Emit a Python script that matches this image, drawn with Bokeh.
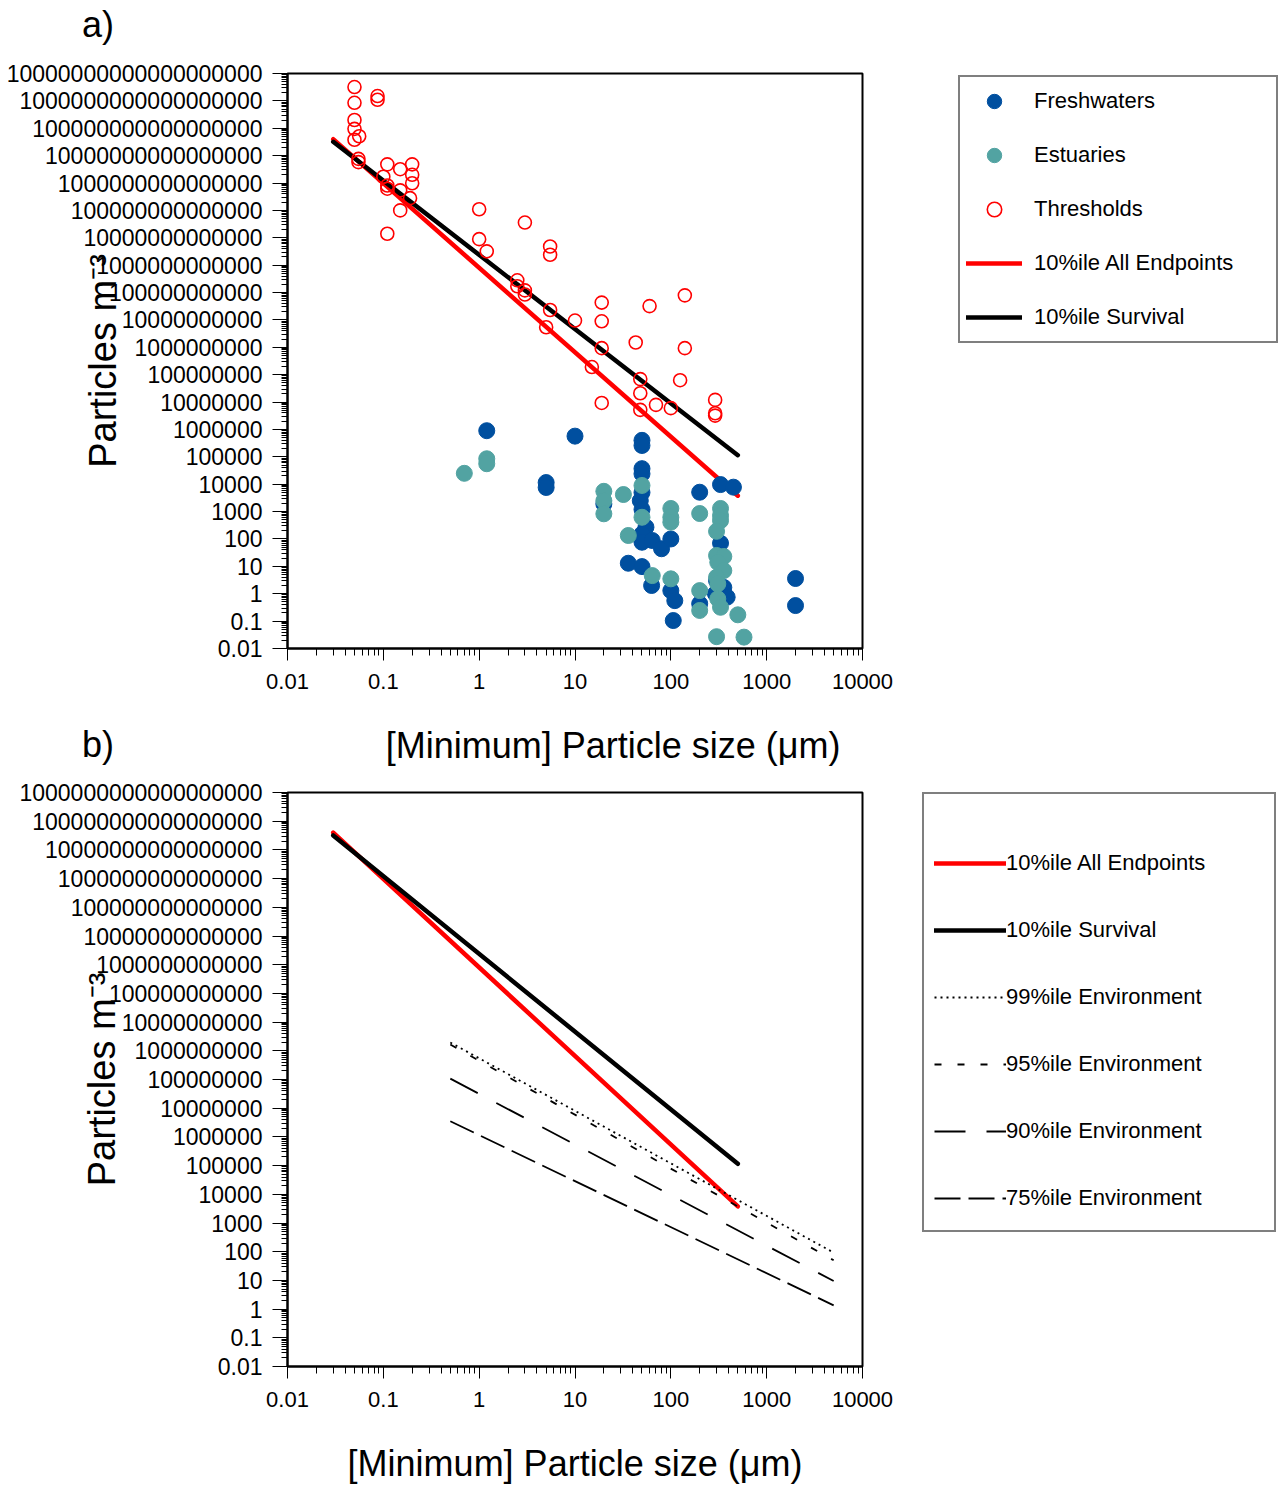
from bokeh.plotting import figure
from bokeh.models import FixedTicker, Range1d, Legend, LegendItem, LogAxis
from bokeh.layouts import column
from bokeh.embed import file_html
from bokeh.resources import INLINE

FONT = "Liberation Sans"
PAGE_W = 1276

# ---------------- tick labels ----------------
x_tick_labels = ["0.01", "0.1", "1", "10", "100", "1000", "10000"]
ya_tick_labels = [
    "0.01", "0.1", "1", "10", "100", "1000", "10000", "100000", "1000000",
    "10000000", "100000000", "1000000000", "10000000000", "100000000000",
    "1000000000000", "10000000000000", "100000000000000", "1000000000000000",
    "10000000000000000", "100000000000000000", "1000000000000000000",
    "10000000000000000000",
]
yb_tick_labels = ya_tick_labels[:-1]

X_TITLE = "[Minimum] Particle size (\u03bcm)"
Y_TITLE = "Particles m\u207b\u00b3"
X_TITLE_A_AT = 25.0   # particle size under which panel a's x title is centred

# ---------------- panel a data ----------------
fw_size = [1.2, 10, 5, 5, 50, 50, 50, 50, 50, 48, 50, 55, 50, 50, 64, 80, 100,
           20, 36, 50, 63, 100, 110, 106, 200, 330, 450, 330, 357, 387, 292,
           200, 300, 2000, 2000]
fw_conc = [9e5, 5.7e5, 1.15e4, 7.6e3, 4e5, 2.6e5, 3.7e4, 2.4e4, 5e3, 2.5e3,
           1.2e3, 270, 150, 76, 88, 44, 100, 1.9e3, 13, 9.8, 2.0, 1.3, 0.56,
           0.105, 5.1e3, 9.7e3, 7.8e3, 70, 1.7, 0.75, 1.0, 0.43, 3.0, 3.6, 0.37]

es_size = [0.7, 1.2, 1.2, 50, 50, 100, 100, 100, 20, 20, 20, 32, 36, 64, 100,
           200, 200, 200, 330, 330, 330, 300, 300, 357, 309, 357, 300, 309,
           309, 330, 500, 300, 580]
es_conc = [2.5e4, 8.5e4, 5.6e4, 9e3, 620, 1.3e3, 620, 410, 5.5e3, 2.5e3, 830,
           4.2e3, 134, 4.6, 3.5, 850, 1.3, 0.245, 1.3e3, 720, 470, 190, 25, 23,
           14, 7, 4, 2.3, 0.65, 0.32, 0.17, 0.027, 0.026]

th_size = [0.05, 0.05, 0.087, 0.087, 0.05, 0.05, 0.05, 0.056, 0.055, 0.055,
           0.11, 0.15, 0.2, 0.2, 0.2, 0.1, 0.11, 0.11, 0.15, 0.19, 0.15, 0.11,
           1.0, 3.0, 1.0, 1.2, 5.5, 5.5, 2.5, 2.5, 3.0, 3.0, 5.5, 10, 5.0,
           19, 60, 140, 19, 19, 43, 140, 15, 48, 125, 48, 19, 70, 100, 48,
           290, 290, 290]
th_conc = [3.2e18, 8.5e17, 1.5e18, 1.1e18, 2e17, 9.5e16, 3.8e16, 5.1e16,
           7.6e15, 5.8e15, 4.8e15, 3.2e15, 4.8e15, 2e15, 9.8e14, 1.7e15,
           8.1e14, 6.2e14, 5.4e14, 2.8e14, 1e14, 1.4e13, 1.1e14, 3.6e13,
           8.9e12, 3.2e12, 4.8e12, 2.4e12, 2.8e11, 1.7e11, 1.2e11, 8.5e10,
           2.3e10, 9.5e9, 5.4e9, 4.3e10, 3.2e10, 7.9e10, 8.9e9, 9.3e8, 1.5e9,
           9.3e8, 1.9e8, 6.9e7, 6.3e7, 2.1e7, 9.3e6, 7.9e6, 6e6, 5.2e6, 1.2e7,
           3.9e6, 3.2e6]

# 10th percentile threshold lines (endpoints)
line_size = [0.03, 500]
all_endpoints = [4.0e16, 3.8e3]
survival = [3.2e16, 1.15e5]

# ---------------- panel b data (environmental percentiles) ----------------
env_size = [0.5, 5000]
env99 = [1.95e9, 93]
env95 = [1.66e9, 50]
env90 = [1.07e8, 9.5]
env75 = [3.5e6, 1.35]

BLUE = "#004F9F"
TEAL = "#52A3A2"
RED = "#FF0000"


def minors(t):
    return [m * t[i] for i in range(len(t) - 1) for m in range(2, 10)]


def make_fig(ylabels, top, bottom, fh, ystandoff):
    xt = [float(s) for s in x_tick_labels]
    yt = [float(s) for s in ylabels]
    p = figure(x_axis_type="log", y_axis_type="log",
               x_range=Range1d(xt[0], xt[-1]), y_range=Range1d(yt[0], yt[-1]),
               frame_width=575, frame_height=fh,
               min_border_left=287, min_border_right=PAGE_W - 287 - 575,
               min_border_top=top, min_border_bottom=bottom,
               toolbar_location=None, output_backend="svg",
               background_fill_color="white", border_fill_color="white")
    p.xgrid.visible = False
    p.ygrid.visible = False
    p.outline_line_color = "black"
    p.outline_line_width = 2
    p.xaxis.ticker = FixedTicker(ticks=xt, minor_ticks=minors(xt))
    p.yaxis.ticker = FixedTicker(ticks=yt, minor_ticks=minors(yt))
    p.xaxis.major_label_overrides = dict(zip(xt, x_tick_labels))
    p.yaxis.major_label_overrides = dict(zip(yt, ylabels))
    for ax in (p.xaxis[0], p.yaxis[0]):
        ax.axis_line_width = 2
        ax.axis_line_color = "black"
        ax.major_tick_in = 0
        ax.minor_tick_in = 0
        ax.major_tick_line_color = "black"
        ax.minor_tick_line_color = "black"
        ax.major_label_text_font = FONT
        ax.major_label_text_color = "black"
        ax.axis_label_text_font = FONT
        ax.axis_label_text_font_style = "normal"
        ax.axis_label_text_color = "black"
    p.xaxis.major_label_standoff = 13
    p.yaxis.major_label_standoff = 10
    p.xaxis.major_tick_out = 12
    p.xaxis.minor_tick_out = 7
    p.yaxis.major_tick_out = 15
    p.yaxis.minor_tick_out = 6
    p.xaxis.major_label_text_font_size = "22px"
    p.yaxis.major_label_text_font_size = "23px"
    p.yaxis.axis_label = Y_TITLE
    p.yaxis.axis_label_text_font_size = "38px"
    p.yaxis.axis_label_standoff = ystandoff
    return p


def style_legend(leg):
    leg.margin = 0
    leg.label_text_font = FONT
    leg.label_text_font_size = "22px"
    leg.label_text_color = "black"
    leg.border_line_color = "black"
    leg.border_line_width = 2
    leg.background_fill_color = "white"
    leg.background_fill_alpha = 1


# ================= panel a =================
pa = make_fig(ya_tick_labels, 73, 120, 575, -120)

r_all = pa.line(line_size, all_endpoints, line_color=RED, line_width=4.5, line_cap="round")
r_surv = pa.line(line_size, survival, line_color="black", line_width=4.5, line_cap="round")
r_fw = pa.scatter(fw_size, fw_conc, size=16, fill_color=BLUE, line_color=BLUE)
r_es = pa.scatter(es_size, es_conc, size=16, fill_color=TEAL, line_color=TEAL)
r_th = pa.scatter(th_size, th_conc, size=13, fill_color=None, line_color=RED, line_width=1.6)

LEG_A_W = 316
leg_a = Legend(items=[
    LegendItem(label="Freshwaters", renderers=[r_fw]),
    LegendItem(label="Estuaries", renderers=[r_es]),
    LegendItem(label="Thresholds", renderers=[r_th]),
    LegendItem(label="10%ile All Endpoints", renderers=[r_all]),
    LegendItem(label="10%ile Survival", renderers=[r_surv]),
], location=(96, 305))
style_legend(leg_a)
leg_a.glyph_height = 36
leg_a.glyph_width = 56
leg_a.padding = 6
leg_a.spacing = 18
leg_a.label_standoff = 12
leg_a.label_width = LEG_A_W - 12 - 56 - 12
pa.add_layout(leg_a, "right")

# panel tags "a)" and "b)": a text-only legend in the right margin, shifted to the left edge
# (offset measured from where Bokeh lays out this second right-hand panel)
TAG_PANEL_LEFT = 1654
holder = pa.scatter(x=[], y=[], size=0)
tags = Legend(items=[LegendItem(label="a)", renderers=[holder]),
                     LegendItem(label="b)", renderers=[holder])],
              location=(82 - TAG_PANEL_LEFT, 648 - 766))
tags.margin = 0
tags.label_text_font = FONT
tags.label_text_font_size = "36px"
tags.label_text_color = "black"
tags.glyph_width = 0
tags.glyph_height = 1
tags.label_standoff = 0
tags.label_width = 40
tags.label_height = 40
tags.padding = 0
tags.spacing = 678
tags.border_line_color = None
tags.background_fill_alpha = 0
pa.add_layout(tags, "right")

# panel a's x-axis title: a label-only axis below the main one
title_axis = LogAxis(ticker=FixedTicker(ticks=[X_TITLE_A_AT]),
                     major_label_overrides={X_TITLE_A_AT: X_TITLE},
                     axis_line_color=None, major_tick_line_color=None,
                     minor_tick_line_color=None, major_tick_out=0, major_tick_in=0,
                     minor_tick_out=0, minor_tick_in=0, major_label_standoff=33,
                     major_label_text_font=FONT, major_label_text_font_size="36px",
                     major_label_text_color="black")
pa.add_layout(title_axis, "below")

# ================= panel b =================
pb = make_fig(yb_tick_labels, 24, 118, 574, -107)
pb.xaxis.axis_label = X_TITLE
pb.xaxis.axis_label_text_font_size = "36px"
pb.xaxis.axis_label_standoff = 33

rb_all = pb.line(line_size, all_endpoints, line_color=RED, line_width=4.5, line_cap="round")
rb_surv = pb.line(line_size, survival, line_color="black", line_width=4.5, line_cap="round")
r99 = pb.line(env_size, env99, line_color="black", line_width=1.8, line_dash="2 4")
r95 = pb.line(env_size, env95, line_color="black", line_width=1.8, line_dash="7 16")
r90 = pb.line(env_size, env90, line_color="black", line_width=1.8, line_dash="31 21")
r75 = pb.line(env_size, env75, line_color="black", line_width=1.8, line_dash="26 8")

leg_b = Legend(items=[
    LegendItem(label="10%ile All Endpoints", renderers=[rb_all]),
    LegendItem(label="10%ile Survival", renderers=[rb_surv]),
    LegendItem(label="99%ile Environment", renderers=[r99]),
    LegendItem(label="95%ile Environment", renderers=[r95]),
    LegendItem(label="90%ile Environment", renderers=[r90]),
    LegendItem(label="75%ile Environment", renderers=[r75]),
], location=(60, 134))
style_legend(leg_b)
leg_b.title = " "
leg_b.title_text_font = FONT
leg_b.title_text_font_size = "22px"
leg_b.title_standoff = 11
leg_b.glyph_height = 44
leg_b.glyph_width = 72
leg_b.padding = 10
leg_b.spacing = 23
leg_b.label_standoff = 0
leg_b.label_width = 258
pb.add_layout(leg_b, "right")

layout = column(pa, pb, spacing=0)
open("out.html", "w").write(file_html(layout, INLINE))
